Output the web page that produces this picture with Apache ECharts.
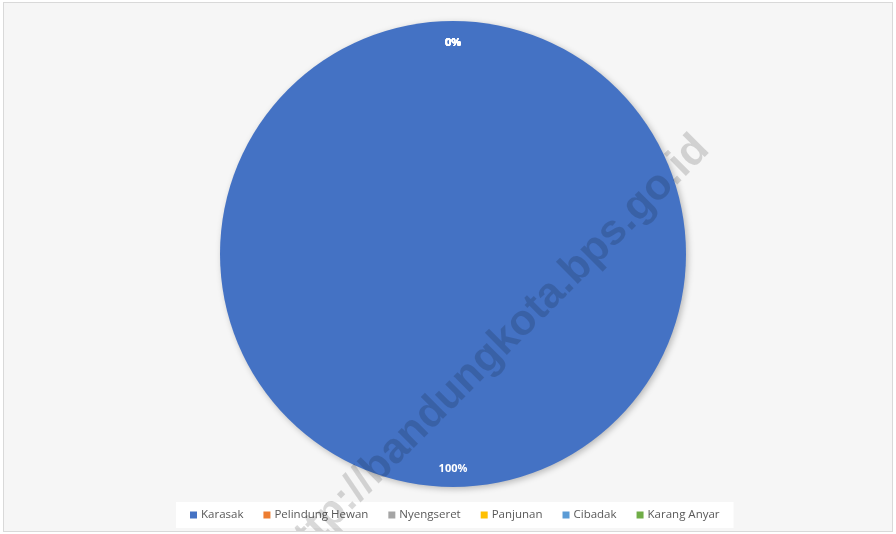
<!DOCTYPE html>
<html>
<head>
<meta charset="utf-8">
<script src="https://cdn.jsdelivr.net/npm/echarts@6/dist/echarts.min.js"></script>
<style>
  html, body { margin: 0; padding: 0; background: #ffffff; }
  #chart { position: absolute; left: 3px; top: 2px; width: 890px; height: 530px; background: #f6f6f6; border: 1px solid #d9d9d9; box-sizing: border-box; }
</style>
</head>
<body>
<div id="chart"></div>
<script>
const categories = ['Karasak', 'Pelindung Hewan', 'Nyengseret', 'Panjunan', 'Cibadak', 'Karang Anyar'];
const values = [100, 0, 0, 0, 0, 0];
const colors = ['#4472C4', '#ED7D31', '#A5A5A5', '#FFC000', '#5B9BD5', '#70AD47'];
const watermark = 'http://bandungkota.bps.go.id';

const chart = echarts.init(document.getElementById('chart'));
const radius = 233;
chart.setOption({
  animation: false,
  color: colors,
  legend: {
    bottom: 3,
    left: 172,
    icon: 'rect',
    itemWidth: 7,
    itemHeight: 7,
    itemGap: 20,
    padding: [7, 14],
    backgroundColor: '#ffffff',
    textStyle: { fontFamily: 'Open Sans', fontSize: 11.5, color: '#595959', padding: [0, 0, 0, -1] },
    data: categories
  },
  graphic: [{
    type: 'text',
    x: 489, y: 349,
    z: 100,
    rotation: Math.PI / 4,
    style: {
      text: watermark,
      font: 'bold 43px "Liberation Sans", Arial, sans-serif',
      fill: 'rgba(0,0,0,0.15)',
      align: 'center',
      verticalAlign: 'middle'
    },
    silent: true
  }],
  series: [{
    type: 'pie',
    center: [449, 251],
    radius: radius,
    startAngle: 90,
    clockwise: true,
    percentPrecision: 0,
    avoidLabelOverlap: false,
    itemStyle: { borderWidth: 0, shadowBlur: 6, shadowColor: 'rgba(0,0,0,0.25)', shadowOffsetX: 2, shadowOffsetY: 2 },
    label: {
      show: true,
      position: 'inside',
      formatter: '{d}%',
      color: '#ffffff',
      fontFamily: 'Open Sans',
      fontSize: 11,
      fontWeight: 'bold'
    },
    labelLine: { show: false },
    labelLayout: function (p) {
      return { dy: p.dataIndex === 0 ? radius * 0.41 : -radius * 0.395 };
    },
    data: categories.map((c, i) => ({ name: c, value: values[i] }))
  }]
});
</script>
</body>
</html>
